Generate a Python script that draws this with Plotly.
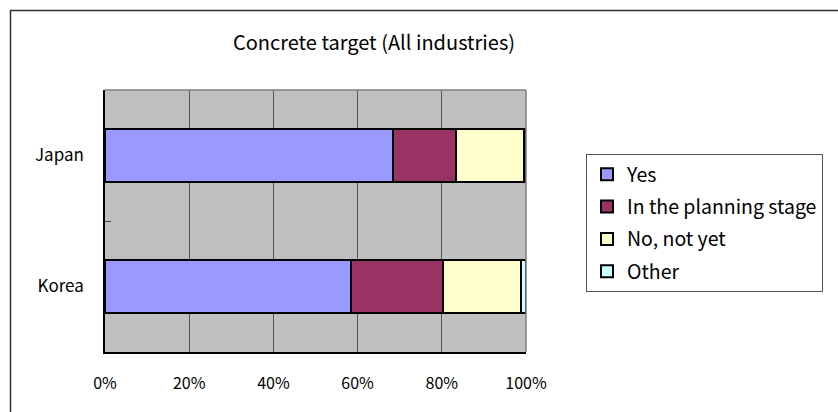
import plotly.graph_objects as go

countries = ["Japan", "Korea"]
series_names = ["Yes", "In the planning stage", "No, not yet", "Other"]
yes = [0.685, 0.585]
planning = [0.149, 0.219]
not_yet = [0.161, 0.185]
other = [0.005, 0.011]
colors = ["#9999FF", "#993366", "#FFFFCC", "#CCFFFF"]
x_ticks = [0, 0.2, 0.4, 0.6, 0.8, 1.0]
title_text = "Concrete target (All industries)"

FONT = "Noto Sans CJK JP"
W, H = 838, 412
L, R, T, B = 105, 526, 90, 352

fig = go.Figure()
for name, vals, col in zip(series_names, [yes, planning, not_yet, other], colors):
    fig.add_trace(go.Bar(
        y=countries, x=vals, name=name, orientation="h",
        marker=dict(color=col, line=dict(color="black", width=2)),
        width=0.4, legendgroup=name,
    ))

def px2x(px):
    return (px - L) / (R - L)

def px2y(py):
    return (B - py) / (B - T)

fig.update_layout(
    width=W, height=H,
    margin=dict(l=L, r=W - R, t=T, b=H - B, pad=0),
    barmode="stack",
    paper_bgcolor="white",
    plot_bgcolor="#C0C0C0",
    font=dict(family=FONT, size=15, color="black"),
    showlegend=True,
    legend=dict(
        x=px2x(586), y=px2y(154), xanchor="left", yanchor="top",
        bgcolor="white", bordercolor="#555555", borderwidth=1,
        font=dict(family=FONT, size=19.5),
        traceorder="grouped", tracegroupgap=4,
        itemwidth=30,
    ),
    xaxis=dict(
        range=[0, 1], tickvals=x_ticks, tickformat=".0%",
        showgrid=True, gridcolor="#555555", gridwidth=1,
        showline=True, linecolor="black", linewidth=1.5,
        ticks="", ticklabelstandoff=16, zeroline=False,
        tickfont=dict(size=16),
    ),
    yaxis=dict(
        categoryorder="array", categoryarray=countries, autorange="reversed",
        showgrid=False, showline=True, linecolor="black", linewidth=1.5,
        ticks="inside", tickson="boundaries", ticklen=6, tickcolor="#444444",
        ticklabelstandoff=16, tickfont=dict(size=17),
    ),
    title=dict(
        text=title_text, x=px2x(374), xref="paper", xanchor="center",
        y=1 - 43 / H, yref="container", yanchor="middle",
        font=dict(family=FONT, size=20),
    ),
    shapes=[
        dict(type="rect", xref="paper", yref="paper",
             x0=px2x(10.5), x1=px2x(845), y0=px2y(10.5), y1=px2y(420),
             line=dict(color="#333333", width=1.5), layer="below"),
        dict(type="line", xref="paper", yref="paper",
             x0=0, x1=1, y0=1, y1=1, line=dict(color="#808080", width=1.5)),
        dict(type="line", xref="paper", yref="paper",
             x0=1, x1=1, y0=0, y1=1, line=dict(color="#808080", width=1.5)),
    ],
)

fig.write_html("out.html", config={"displayModeBar": False},
               post_script="document.body.style.margin='0';")
